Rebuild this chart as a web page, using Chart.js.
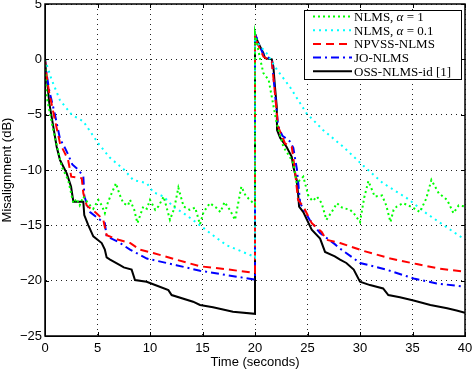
<!DOCTYPE html>
<html><head><meta charset="utf-8">
<script src="https://cdn.jsdelivr.net/npm/chart.js@4/dist/chart.umd.min.js"></script>
<style>html,body{margin:0;padding:0;background:#fff}</style>
</head><body>
<canvas id="c" width="473" height="370"></canvas>
<script>
// ---- data ----
const legendLabels = ['NLMS, α = 1', 'NLMS, α = 0.1', 'NPVSS-NLMS', 'JO-NLMS', 'OSS-NLMS-id [1]'];
const xTicks = [0, 5, 10, 15, 20, 25, 30, 35, 40];
const yTicks = [5, 0, -5, -10, -15, -20, -25];

const tNlms1 = [0,0.16,0.79,1.59,2.2,2.7,3.0,3.3,3.65,4.1,4.6,5.08,5.4,5.7,6.0,6.35,6.76,7.1,7.46,7.9,8.1,8.5,8.8,9.36,9.7,10.0,10.5,10.8,11.3,11.9,12.3,12.7,13.2,13.8,14.3,14.76,15.1,15.7,16.3,16.7,17.1,17.6,18.1,18.4,18.7,19.1,19.4,19.84,20,
  20,20.5,20.8,21.3,22.07,22.7,23.3,23.65,23.97,24.6,25.1,25.5,25.9,26.35,26.8,27.3,27.8,28.3,29.05,29.4,30.0,30.4,30.8,31.4,32.1,32.5,32.9,33.2,33.5,34.1,34.6,35.2,35.7,36.3,36.8,37.5,38.3,38.9,39.4,40];
const vNlms1 = [0,-3.4,-6.4,-9.7,-10.9,-13.0,-12.6,-13.2,-12.4,-13.0,-13.5,-12.7,-13.2,-13.9,-12.9,-12.1,-11.2,-12.2,-13.0,-13.2,-12.7,-13.6,-14.8,-13.3,-13.5,-12.7,-13.6,-13.3,-12.4,-14.5,-13.5,-11.6,-13.3,-13.6,-13.4,-14.9,-13.8,-13.0,-13.4,-13.8,-12.9,-13.6,-14.5,-13.0,-11.5,-12.3,-12.6,-13.0,-13.1,
  2.3,0.0,-1.25,-1.86,-5.8,-7.9,-8.8,-9.4,-11.2,-10.6,-12.4,-12.8,-12.4,-13.0,-14.5,-13.8,-13.0,-13.4,-13.6,-13.9,-14.7,-12.5,-11.0,-12.4,-12.3,-13.2,-14.7,-13.6,-13.3,-13.0,-13.2,-13.5,-13.8,-12.6,-10.9,-12.1,-12.7,-13.9,-13.2,-13.3];

const tNlms01 = [0,0.64,1.43,2.54,3.65,5.08,6.19,7.46,8.4,9.7,10.3,11.3,12.2,13.5,14.76,16.0,17.3,19.84,20,
  20,20.2,21.1,22.1,23.3,24.9,26.5,28.4,30.3,32.2,34.4,36.3,38.6,40];
const vNlms01 = [0,-1.86,-3.7,-5.0,-5.6,-7.6,-8.9,-9.9,-10.9,-11.2,-12.0,-12.4,-13.3,-14.1,-15.0,-15.9,-16.8,-17.8,-17.9,
  2.3,1.5,0.56,-0.95,-2.46,-4.87,-6.4,-7.9,-9.6,-11.2,-12.5,-13.9,-15.4,-16.3];

const tNpvss = [0,0.15,0.4,0.95,1.43,1.9,2.2,2.5,3.5,3.65,3.97,4.9,5.55,5.87,7.0,8.1,9.05,10.3,12.5,14.76,16.67,20,
  20,20.2,20.8,21.6,21.9,22.2,22.86,23.5,23.8,24.1,24.6,25.4,26.35,26.8,28.1,30.3,32.9,35.4,37.5,40];
const vNpvss = [0,-1.5,-3.0,-5.5,-7.6,-8.5,-9.1,-10.6,-10.75,-12.1,-13.2,-13.9,-14.5,-15.9,-16.3,-16.6,-17.2,-17.5,-18.1,-18.7,-18.9,-19.3,
  2.3,1.5,0.25,-0.2,-3.06,-6.08,-7.6,-7.9,-10.0,-12.7,-13.3,-14.8,-15.6,-16.3,-16.6,-17.3,-18.0,-18.5,-18.9,-19.2];

const tJo = [0,0.15,0.4,0.95,1.43,1.9,2.2,2.6,3.2,3.65,3.75,4.29,5.24,5.7,5.87,7.0,8.1,9.7,12.5,14.76,17.3,20,
  20,20.3,20.8,21.6,21.9,22.2,22.6,23.3,23.65,24.0,24.3,25.2,26.2,27.6,28.1,30,32.5,35.1,37.3,40];
const vJo = [0,-1.3,-2.8,-5.0,-7.2,-8.0,-8.6,-9.5,-10.0,-10.6,-12.4,-13.8,-14.5,-14.8,-16.0,-16.5,-17.2,-18.0,-18.6,-19.1,-19.5,-19.9,
  2.3,1.6,0.4,0.0,-3.0,-6.0,-6.9,-7.4,-8.0,-10.0,-13.0,-14.5,-15.7,-16.7,-17.1,-18.4,-19.0,-19.8,-20.25,-20.55];

const tOss = [0,0.1,0.22,0.41,0.79,1.11,1.43,2.07,2.48,2.7,3.65,3.74,4.12,4.6,5.4,5.7,5.87,6.2,7.14,7.5,8.25,8.57,9.68,10.8,11.75,12.06,14.1,14.76,16.0,17.9,20,
  20,20.3,20.8,20.95,21.6,21.75,21.9,22.07,22.1,22.4,23.0,23.5,23.65,23.97,24.1,24.2,24.6,25.1,25.4,26.2,26.67,27.6,28.1,28.7,29.4,30.0,30.95,32.2,32.7,33.8,35.1,36.7,38.3,39.2,40];
const vOss = [0,-1.2,-2.15,-3.96,-6.08,-7.9,-9.1,-10.3,-11.5,-12.87,-12.87,-14.07,-14.98,-16.0,-16.6,-17.2,-17.9,-18.1,-18.6,-18.8,-19.0,-19.95,-20.1,-20.5,-20.86,-21.3,-21.9,-22.2,-22.4,-22.8,-23.0,
  2.3,1.5,0.56,0.1,0.0,-0.65,-2.46,-4.27,-6.4,-7.1,-7.9,-8.8,-9.7,-10.9,-12.1,-13.3,-13.8,-14.8,-15.4,-16.2,-17.4,-17.8,-18.1,-18.4,-19.0,-20.1,-20.4,-20.7,-21.3,-21.5,-21.8,-22.2,-22.5,-22.7,-22.9];

const zip = (t, v) => t.map((x, i) => ({x, y: v[i]}));

const datasets = [
  {label: legendLabels[0], data: zip(tNlms1, vNlms1), borderColor: '#00ff00', borderWidth: 2, borderDash: [2, 3]},
  {label: legendLabels[1], data: zip(tNlms01, vNlms01), borderColor: '#00ffff', borderWidth: 2, borderDash: [2, 4]},
  {label: legendLabels[2], data: zip(tNpvss, vNpvss), borderColor: '#ff0000', borderWidth: 2, borderDash: [8, 5]},
  {label: legendLabels[3], data: zip(tJo, vJo), borderColor: '#0000ff', borderWidth: 2, borderDash: [8, 4, 2, 4]},
  {label: legendLabels[4], data: zip(tOss, vOss), borderColor: '#000000', borderWidth: 2, borderDash: []}
];
datasets.forEach(d => { d.pointRadius = 0; d.tension = 0; d.fill = false; });

const fmt = v => (v < 0 ? '\u2212' + Math.abs(v) : String(v));

const framePlugin = {
  id: 'frame',
  afterDatasetsDraw(chart) {
    const {ctx, chartArea: a, scales: {x, y}} = chart;
    ctx.save();
    ctx.setLineDash([]);
    ctx.strokeStyle = '#000';
    ctx.lineWidth = 1;
    ctx.beginPath();
    xTicks.forEach(v => {
      const p = Math.round(x.getPixelForValue(v)) + 0.5;
      ctx.moveTo(p, a.bottom); ctx.lineTo(p, a.bottom - 4);
      ctx.moveTo(p, a.top); ctx.lineTo(p, a.top + 4);
    });
    yTicks.forEach(v => {
      const p = Math.round(y.getPixelForValue(v)) + 0.5;
      ctx.moveTo(a.left, p); ctx.lineTo(a.left + 4, p);
      ctx.moveTo(a.right, p); ctx.lineTo(a.right - 4, p);
    });
    ctx.stroke();
    ctx.lineWidth = 1.5;
    ctx.strokeRect(a.left, a.top, a.right - a.left, a.bottom - a.top);

    // legend box
    const bx = 304, by = 10, bw = 157, bh = 69;
    ctx.fillStyle = '#fff';
    ctx.fillRect(bx, by, bw, bh);
    ctx.lineWidth = 1;
    ctx.strokeRect(bx + 0.5, by + 0.5, bw, bh);
    const rowH = 13.7;
    chart.data.datasets.forEach((d, i) => {
      const yy = by + 6.5 + rowH * i;
      ctx.strokeStyle = d.borderColor;
      ctx.lineWidth = d.borderWidth;
      ctx.setLineDash(d.borderDash);
      ctx.beginPath();
      ctx.moveTo(313, yy); ctx.lineTo(352, yy);
      ctx.stroke();
      ctx.setLineDash([]);
      ctx.fillStyle = '#000';
      ctx.textBaseline = 'middle';
      ctx.textAlign = 'left';
      const parts = d.label.split('α');
      let tx = 354;
      ctx.font = '13px "Liberation Serif", "Times New Roman", serif';
      ctx.fillText(parts[0], tx, yy + 1);
      tx += ctx.measureText(parts[0]).width;
      if (parts.length > 1) {
        ctx.font = 'italic 13px "Liberation Serif", "Times New Roman", serif';
        ctx.fillText('α', tx, yy + 1);
        tx += ctx.measureText('α').width;
        ctx.font = '13px "Liberation Serif", "Times New Roman", serif';
        ctx.fillText(parts[1], tx, yy + 1);
      }
    });
    ctx.restore();
  }
};

const font = {family: '"Liberation Sans", Arial, sans-serif', size: 13};
const gridStyle = {
  color: '#222',
  lineWidth: 1,
  drawTicks: false
};

new Chart(document.getElementById('c'), {
  type: 'line',
  data: {datasets},
  options: {
    responsive: false,
    animation: false,
    devicePixelRatio: 1,
    layout: {padding: {left: 0, right: 8, top: 4, bottom: 0}},
    plugins: {legend: {display: false}, tooltip: {enabled: false}},
    scales: {
      x: {
        type: 'linear', min: 0, max: 40,
        afterBuildTicks: s => { s.ticks = xTicks.map(v => ({value: v})); },
        afterFit: s => { s.height = 34; s.paddingLeft = 0; s.paddingRight = 0; },
        ticks: {font, color: '#000', padding: 5, callback: fmt, maxRotation: 0, autoSkip: false},
        grid: {...gridStyle},
        border: {display: true, color: '#000', dash: [1, 4], width: 1},
        title: {display: true, text: 'Time (seconds)', font, color: '#000', padding: {top: 0, bottom: 0}}
      },
      y: {
        type: 'linear', min: -25, max: 5,
        afterBuildTicks: s => { s.ticks = yTicks.map(v => ({value: v})); },
        afterFit: s => { s.width = 45; s.paddingTop = 0; s.paddingBottom = 0; },
        ticks: {font, color: '#000', padding: 3, callback: fmt, autoSkip: false},
        grid: {...gridStyle},
        border: {display: true, color: '#000', dash: [1, 4], width: 1},
        title: {display: true, text: 'Misalignment (dB)', font, color: '#000', padding: {top: 0, bottom: 0}}
      }
    }
  },
  plugins: [framePlugin]
});
</script>
</body></html>
